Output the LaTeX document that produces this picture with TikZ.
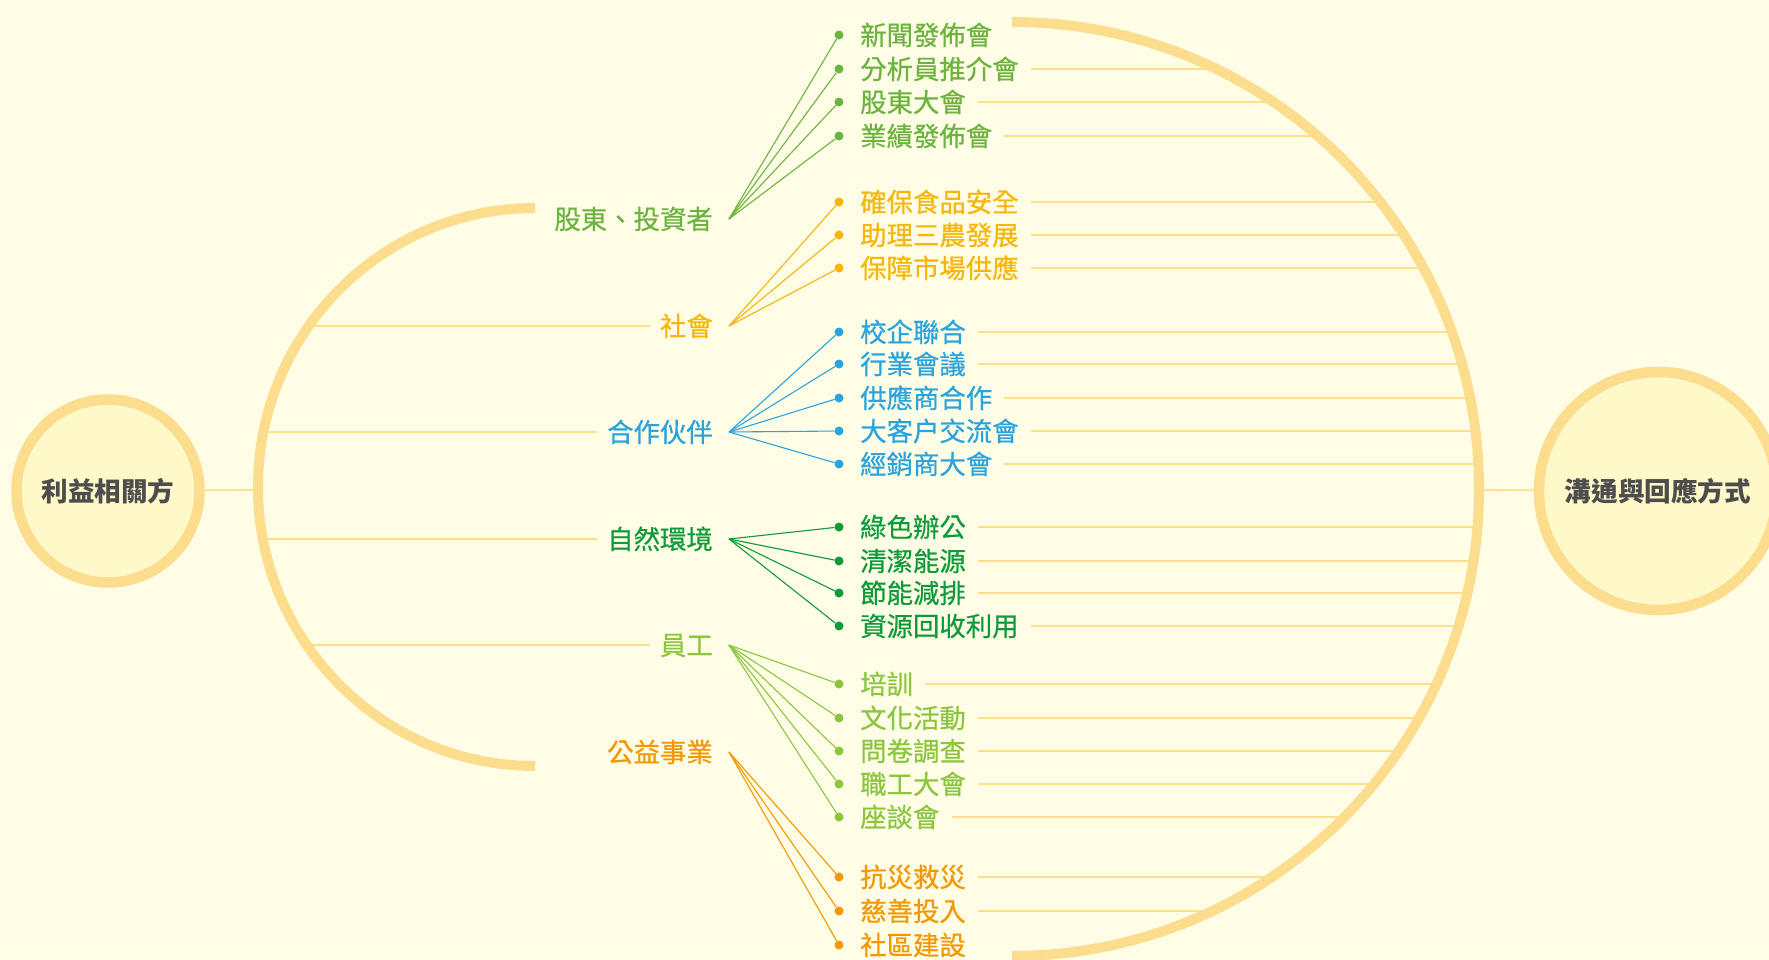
\documentclass[tikz,border=0pt]{standalone}
\usepackage{fontspec}
\newfontfamily\cjk[FakeBold=0.6]{Noto Sans CJK TC}
\newfontfamily\cjkhead{Noto Sans CJK TC}
\usetikzlibrary{backgrounds}
\definecolor{bgc}{HTML}{FFFDE6}
\definecolor{ringc}{HTML}{FCDD8E}
\definecolor{linec}{HTML}{FFE08A}
\definecolor{cfill}{HTML}{FFF9CA}
\definecolor{darkt}{HTML}{4D4D4D}
\definecolor{cA}{HTML}{6DB33F}
\definecolor{cB}{HTML}{F6B60B}
\definecolor{cC}{HTML}{2AA4DE}
\definecolor{cD}{HTML}{0F9A3C}
\definecolor{cE}{HTML}{8CC63F}
\definecolor{cF}{HTML}{F39800}
\begin{document}
\begin{tikzpicture}[x=1pt,y=-1pt,
  every node/.style={font={\cjk\fontsize{26.4pt}{30pt}\selectfont}, inner sep=0pt},
  ring/.style={draw=ringc, line width=10pt},
  thinline/.style={draw=linec, line width=1.8pt},
  cat/.style={anchor=base east},
  item/.style={anchor=base west},
  dot/.style={circle, inner sep=0pt, minimum size=9pt},
  link/.style={line width=1.1pt},
  bigcircle/.style={circle, draw=ringc, line width=10.5pt, fill=cfill, text=darkt,
    font={\cjkhead\bfseries\fontsize{26.6pt}{30pt}\selectfont}}]
\useasboundingbox (0,0) rectangle (1769,959);
\clip (0,0) rectangle (1769,959);
\begin{scope}[on background layer]
  \fill[bgc] (0,0) rectangle (1769,959);
\end{scope}

% rings
\draw[ring] (535,766) arc[start angle=90, end angle=270, x radius=277, y radius=279];
\draw[ring] (1012,22) arc[start angle=-90, end angle=90, radius=467];

% end circles
\node[bigcircle, minimum size=183pt] (lc) at (108,491) {利益相關方};
\node[bigcircle, minimum size=238pt] (rc) at (1658,491) {溝通與回應方式};
\coordinate (la) at (258,490);
\coordinate (ra) at (1480,490);

% categories
\node[cat, text=cA] (c1) at (713,229) {股東、投資者};
\node[cat, text=cB] (c2) at (713,336) {社會};
\node[cat, text=cC] (c3) at (713,442) {合作伙伴};
\node[cat, text=cD] (c4) at (713,549) {自然環境};
\node[cat, text=cE] (c5) at (713,655) {員工};
\node[cat, text=cF] (c6) at (713,762) {公益事業};
\coordinate (h1) at (729,219);
\coordinate (h2) at (729,326);
\coordinate (h3) at (729,432);
\coordinate (h4) at (729,539);
\coordinate (h5) at (729,645);
\coordinate (h6) at (729,752);

% items
\foreach \n/\t/\y in {11/新聞發佈會/35,12/分析員推介會/69,13/股東大會/102,14/業績發佈會/136}{
  \node[dot, fill=cA] (d\n) at (839,\y) {};
  \node[item, text=cA] (i\n) at (860,\y+10) {\t};
  \draw[link, cA] (h1) -- (d\n);
}
\foreach \n/\t/\y in {21/確保食品安全/202,22/助理三農發展/235,23/保障市場供應/268}{
  \node[dot, fill=cB] (d\n) at (839,\y) {};
  \node[item, text=cB] (i\n) at (860,\y+10) {\t};
  \draw[link, cB] (h2) -- (d\n);
}
\foreach \n/\t/\y in {31/校企聯合/332,32/行業會議/364,33/供應商合作/398,34/大客户交流會/431,35/經銷商大會/464}{
  \node[dot, fill=cC] (d\n) at (839,\y) {};
  \node[item, text=cC] (i\n) at (860,\y+10) {\t};
  \draw[link, cC] (h3) -- (d\n);
}
\foreach \n/\t/\y in {41/綠色辦公/527,42/清潔能源/561,43/節能減排/593,44/資源回收利用/626}{
  \node[dot, fill=cD] (d\n) at (839,\y) {};
  \node[item, text=cD] (i\n) at (860,\y+10) {\t};
  \draw[link, cD] (h4) -- (d\n);
}
\foreach \n/\t/\y in {51/培訓/684,52/文化活動/718,53/問卷調查/751,54/職工大會/784,55/座談會/817}{
  \node[dot, fill=cE] (d\n) at (839,\y) {};
  \node[item, text=cE] (i\n) at (860,\y+10) {\t};
  \draw[link, cE] (h5) -- (d\n);
}
\foreach \n/\t/\y in {61/抗災救災/877,62/慈善投入/911,63/社區建設/945}{
  \node[dot, fill=cF] (d\n) at (839,\y) {};
  \node[item, text=cF] (i\n) at (860,\y+10) {\t};
  \draw[link, cF] (h6) -- (d\n);
}

% thin connector lines (behind the rings)
\begin{scope}[on background layer]
  \draw[thinline] (lc) -- (la);
  \draw[thinline] (ra) -- (rc);
  \begin{scope}
    \clip (535,487) ellipse [x radius=277, y radius=279];
    \draw[thinline] (c2.west |- h2) ++(-10,0) -- ++(-500,0);
    \draw[thinline] (c3.west |- h3) ++(-10,0) -- ++(-500,0);
    \draw[thinline] (c4.west |- h4) ++(-10,0) -- ++(-500,0);
    \draw[thinline] (c5.west |- h5) ++(-10,0) -- ++(-500,0);
  \end{scope}
  \begin{scope}
    \clip (1012,489) circle (467);
    \foreach \n in {12,13,14,21,22,23,31,32,33,34,35,41,42,43,44,51,52,53,54,55,61,62}{
      \draw[thinline] (i\n.east |- d\n) ++(12,0) -- ++(700,0);
    }
  \end{scope}
\end{scope}
\end{tikzpicture}
\end{document}
